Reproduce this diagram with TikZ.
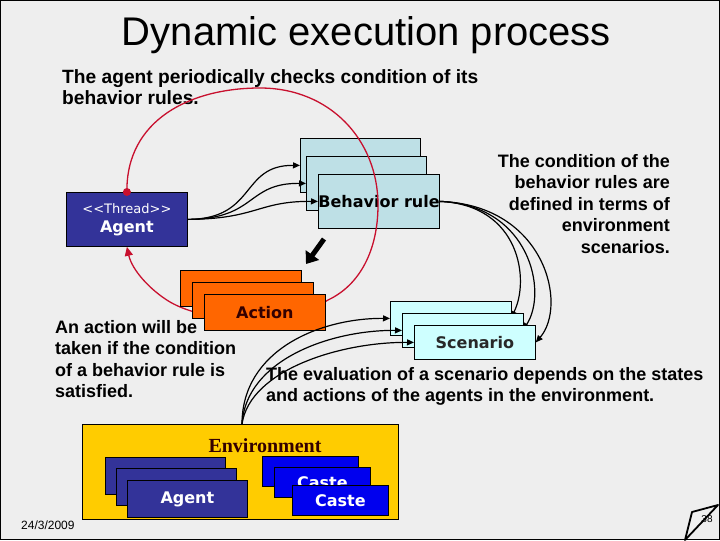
\documentclass[tikz,border=0pt]{standalone}
\usepackage{fontspec}
\setmainfont{Liberation Sans}
\newfontfamily\verd{DejaVu Sans}
\newfontfamily\timesf{Liberation Serif}
\usetikzlibrary{arrows.meta}
\definecolor{bgc}{RGB}{238,238,238}
\definecolor{brc}{RGB}{190,224,230}
\definecolor{scc}{RGB}{206,255,255}
\definecolor{actc}{RGB}{255,102,0}
\definecolor{actt}{RGB}{51,0,0}
\definecolor{agc}{RGB}{51,51,153}
\definecolor{cac}{RGB}{0,0,238}
\definecolor{envc}{RGB}{255,204,0}
\definecolor{redl}{RGB}{200,16,46}
\definecolor{sct}{RGB}{40,40,40}
\begin{document}
\begin{tikzpicture}[x=1pt,y=-1pt,
  bx/.style={draw=black, line width=0.8pt, inner sep=0pt, anchor=north west},
  brbox/.style={bx, fill=brc, minimum width=120pt, minimum height=54pt, font=\verd\bfseries\fontsize{16}{18}\selectfont},
  actbox/.style={bx, fill=actc, minimum width=121pt, minimum height=36pt, text=actt, font=\verd\bfseries\fontsize{16}{18}\selectfont},
  scbox/.style={bx, fill=scc, minimum width=121pt, minimum height=34pt, text=sct, font=\verd\bfseries\fontsize{16}{18}\selectfont},
  eabox/.style={bx, fill=agc, minimum width=120pt, minimum height=37pt, text=white, font=\verd\bfseries\fontsize{16}{18}\selectfont},
  cabox/.style={bx, fill=cac, minimum width=96pt, minimum height=30pt, text=white, font=\verd\bfseries\fontsize{16}{18}\selectfont},
  conn/.style={draw=black, line width=1.2pt, -{Triangle[length=7pt,width=6pt]}},
  body/.style={font=\bfseries\fontsize{18}{21.5}\selectfont, inner sep=0pt}
]
% background and frame
\fill[bgc] (0,0) rectangle (720,540);
\draw[black, line width=1pt] (0.5,0.5) rectangle (719.5,539.5);

% title
\node[anchor=base, inner sep=0pt, font=\fontsize{40}{48}\selectfont] (title) at (366.5,45) {Dynamic execution process};

% texts
\node[body, font=\bfseries\fontsize{19.2}{21.5}\selectfont, anchor=north west, align=left] (t1) at (62,69) {The agent periodically checks condition of its\\behavior rules.};
\node[body, anchor=north east, align=right] (t2) at (670,154) {The condition of the\\behavior rules are\\defined in terms of\\environment\\scenarios.};
\node[body, anchor=north west, align=left] (t3) at (55,320) {An action will be\\taken if the condition\\of a behavior rule is\\satisfied.};

% thread agent
\node[bx, fill=agc, minimum width=121pt, minimum height=54pt, text=white, align=center, font=\verd\fontsize{13}{19}\selectfont] (agent) at (66,192)
  {<\kern0pt<Thread>\kern0pt>\\{\bfseries\fontsize{16}{19}\selectfont Agent}};

% behavior rules
\node[brbox] (br1) at (300,138) {};
\node[brbox] (br2) at (306,156) {};
\node[brbox] (br3) at (318,174) {Behavior rule};

% fan from agent to behavior rules
\draw[conn] (agent.east) .. controls (257,219) and (240,165) .. (br1.west);
\draw[conn] (agent.east) .. controls (257,219) and (246,183) .. (br2.west);
\draw[conn] (agent.east) .. controls (257,219) and (258,201) .. (br3.west);

% red loop
\coordinate (rtop) at (260,88);
\coordinate (rright) at (378,205);
\coordinate (rlow) at (328,300);
\coordinate (rleft) at (170,302);
\draw[redl, line width=1.3pt, -{Triangle[length=9pt,width=8pt]}]
  (agent.north) .. controls (126,120) and (190,88) .. (rtop)
  .. controls (330,88) and (378,140) .. (rright)
  .. controls (378,250) and (360,285) .. (rlow)
  .. controls (290,325) and (210,325) .. (rleft)
  .. controls (150,290) and (132,270) .. (agent.south);
\fill[redl] (agent.north) circle (4pt);

% pointer arrow
\coordinate (pa) at (324,239);
\coordinate (pb) at (306,264);
\draw[black, line width=5pt, -{Triangle[length=11pt,width=16pt]}] (pa) -- (pb);

% actions
\node[actbox] (a1) at (180,270) {};
\node[actbox] (a2) at (192,282) {};
\node[actbox] (a3) at (204,294) {Action};

% curves from behavior rule to scenarios
\draw[conn] (br3.east) .. controls (520,205) and (530,280) .. (511,318);
\draw[conn] (br3.east) .. controls (530,205) and (548,292) .. (523,330);

% environment
\node[bx, fill=envc, minimum width=316pt, minimum height=95pt] (env) at (82,424) {};
\node[inner sep=0pt, font=\timesf\bfseries\fontsize{20}{22}\selectfont, text=actt] (envl) at (265,446) {Environment};

% curves from environment to scenarios
\coordinate (envtop) at (242,424);

% scenarios
\node[scbox] (s1) at (390,301) {};
\draw[conn] (envtop) .. controls (242,350) and (320,318) .. (s1.west);
\node[scbox] (s2) at (402,313) {};
\draw[conn] (envtop) .. controls (246,360) and (330,330) .. (s2.west);
\node[scbox] (s3) at (414,325) {Scenario};
\draw[conn] (br3.east) .. controls (545,205) and (568,305) .. (s3.east);
\draw[conn] (envtop) .. controls (250,370) and (340,342) .. (s3.west);

\node[body, anchor=north west, align=left] (t4) at (266,367) {The evaluation of a scenario depends on the states\\and actions of the agents in the environment.};

% agents in env
\node[eabox] (ea1) at (105,457) {};
\node[eabox] (ea2) at (116,468) {};
\node[eabox] (ea3) at (127,480) {Agent};
% castes
\node[cabox] (c1) at (262,456) {};
\node[cabox] (c2) at (274,467) {Caste};
\node[cabox] (c3) at (292,485) {Caste};

% date
\node[anchor=base west, inner sep=0pt, font=\fontsize{12}{14}\selectfont] (date) at (21,529) {24/3/2009};

% page curl
\filldraw[fill=gray!12, draw=black, line width=1.8pt, line join=round] (685,540) -- (692,512) -- (718,505) -- cycle;
\node[inner sep=0pt, font=\fontsize{10}{12}\selectfont] (pg) at (707,519) {38};
\end{tikzpicture}
\end{document}
